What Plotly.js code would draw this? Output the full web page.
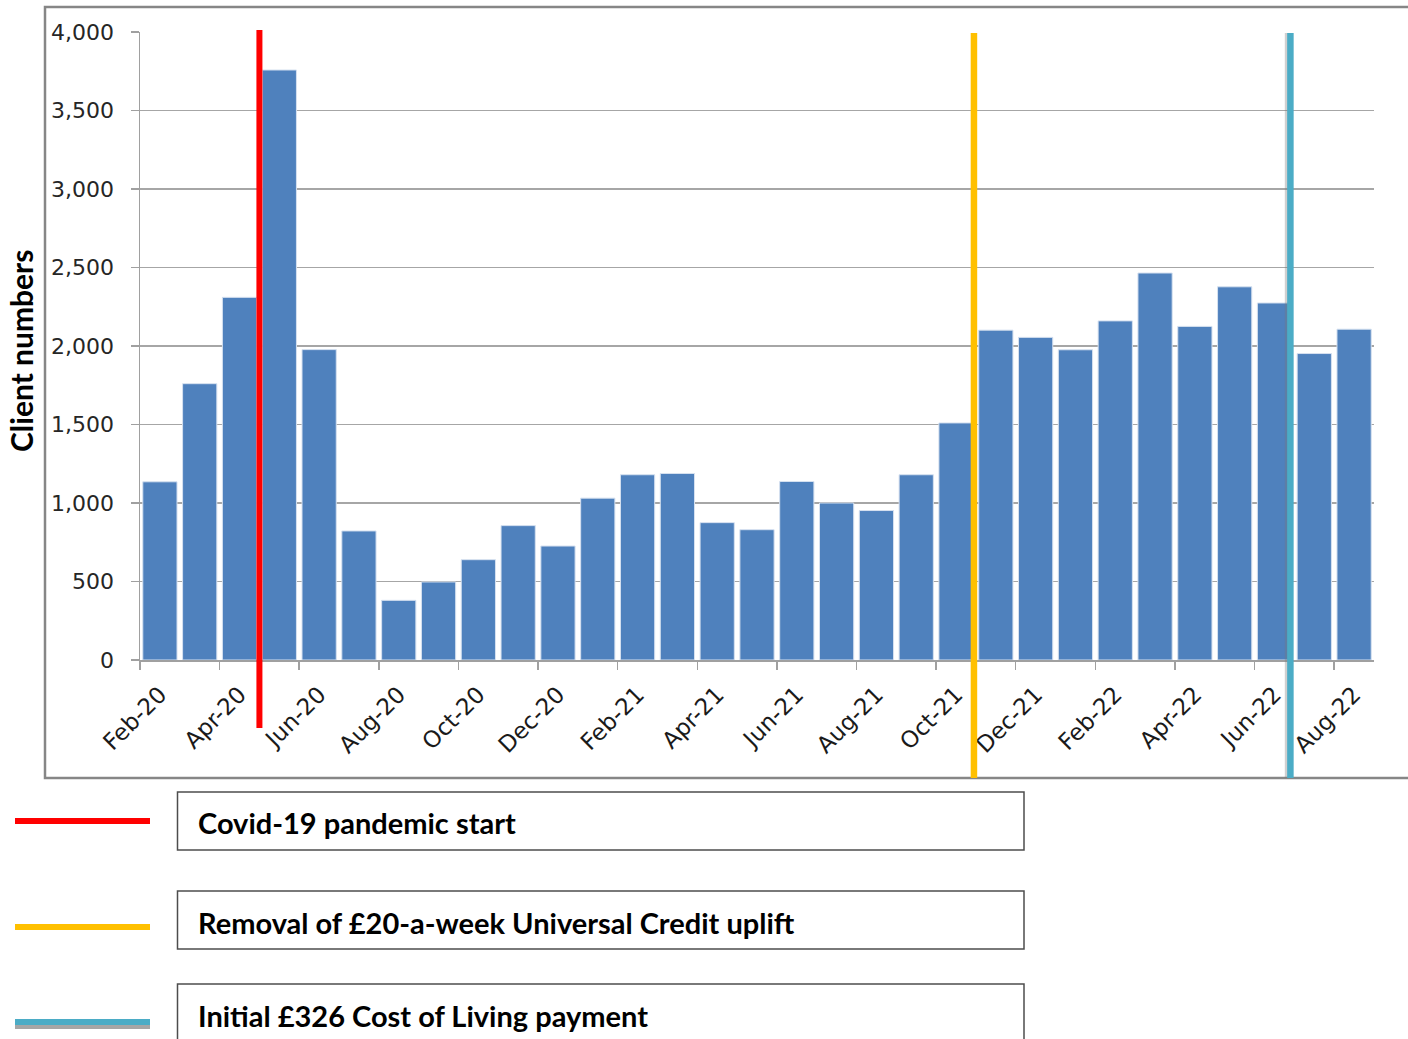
<!DOCTYPE html>
<html>
<head>
<meta charset="utf-8">
<script src="https://cdn.plot.ly/plotly-3.0.1.min.js"></script>
<style>
  html, body { margin: 0; padding: 0; background: #ffffff; }
  #chart { width: 1408px; height: 1039px; }
</style>
</head>
<body>
<div id="chart"></div>
<script>
// Monthly client numbers, Feb 2020 to Aug 2022
const months = [
  'Feb-20','Mar-20','Apr-20','May-20','Jun-20','Jul-20','Aug-20','Sep-20','Oct-20','Nov-20','Dec-20',
  'Jan-21','Feb-21','Mar-21','Apr-21','May-21','Jun-21','Jul-21','Aug-21','Sep-21','Oct-21','Nov-21','Dec-21',
  'Jan-22','Feb-22','Mar-22','Apr-22','May-22','Jun-22','Jul-22','Aug-22'
];
const clients = [
  1135, 1760, 2310, 3758, 1977, 822, 380, 497, 639, 856, 726,
  1031, 1180, 1188, 875, 830, 1137, 1000, 952, 1180, 1510, 2101, 2055,
  1976, 2160, 2465, 2125, 2377, 2274, 1952, 2107
];

// Policy events, placed on the month axis (category index)
const eventNames = [
  'Covid-19 pandemic start',
  'Removal of £20-a-week Universal Credit uplift',
  'Initial £326 Cost of Living payment'
];
const eventX = [2.5, 20.45, 28.4];
const eventColors = ['#ff0000', '#ffc000', '#4bacc6'];

// Page geometry helpers (pixel -> paper fractions)
const W = 1408, H = 1039;
const M = { l: 140, r: 34, t: 32, b: 379 };
const plotW = W - M.l - M.r, plotH = H - M.t - M.b;
const px = X => (X - M.l) / plotW;
const py = Y => (H - M.b - Y) / plotH;

const shapes = [];
const annotations = [];

// Outer chart frame
shapes.push({
  type: 'rect', xref: 'paper', yref: 'paper',
  x0: px(45), x1: px(1416), y0: py(778), y1: py(7),
  line: { color: '#868686', width: 2.5 }, fillcolor: 'rgba(0,0,0,0)', layer: 'below'
});

// Event lines across the plot
const eventTops = [py(30), py(33), py(33)];
const eventBottoms = [py(728), py(778), py(778)];
// soft shadow beside the cost-of-living line
shapes.push({
  type: 'line', xref: 'x', yref: 'paper',
  x0: eventX[2] - 0.09, x1: eventX[2] - 0.09, y0: eventBottoms[2], y1: eventTops[2],
  line: { color: 'rgba(120,120,120,0.35)', width: 4 }
});
eventX.forEach((x, i) => {
  shapes.push({
    type: 'line', xref: 'x', yref: 'paper',
    x0: x, x1: x, y0: eventBottoms[i], y1: eventTops[i],
    line: { color: eventColors[i], width: i === 0 ? 6 : 6.5 }
  });
});

// Key below the chart: coloured line + boxed label
const keyY = [821, 927, 1022];
const boxTop = [792, 891, 984];
const boxBottom = [850, 949, 1046];
const keyTextY = [823, 922, 1015];
eventNames.forEach((name, i) => {
  if (i === 2) {
    shapes.push({
      type: 'line', xref: 'paper', yref: 'paper',
      x0: px(15), x1: px(150), y0: py(keyY[i] + 5), y1: py(keyY[i] + 5),
      line: { color: '#a6a6a6', width: 4 }
    });
  }
  shapes.push({
    type: 'line', xref: 'paper', yref: 'paper',
    x0: px(15), x1: px(150), y0: py(keyY[i]), y1: py(keyY[i]),
    line: { color: eventColors[i], width: 6 }
  });
  shapes.push({
    type: 'rect', xref: 'paper', yref: 'paper',
    x0: px(177.5), x1: px(1024), y0: py(boxBottom[i]), y1: py(boxTop[i]),
    line: { color: '#4d4d4d', width: 1.5 }, fillcolor: '#ffffff'
  });
  annotations.push({
    xref: 'paper', yref: 'paper', x: px(196), y: py(keyTextY[i]),
    xanchor: 'left', yanchor: 'middle', showarrow: false,
    text: '<b>' + name + '</b>',
    font: { family: 'Lato, sans-serif', size: 29, color: '#000000' }
  });
});

// Vertical axis title
annotations.push({
  xref: 'paper', yref: 'paper', x: px(21), y: py(351),
  xanchor: 'center', yanchor: 'middle', showarrow: false, textangle: -90,
  text: '<b>Client numbers</b>',
  font: { family: 'Lato, sans-serif', size: 30, color: '#000000' }
});

const trace = {
  type: 'bar',
  x: months,
  y: clients,
  marker: { color: '#4f81bd', line: { color: '#d6e1f0', width: 1 } },
  hoverinfo: 'x+y'
};

const layout = {
  width: W, height: H,
  margin: M,
  paper_bgcolor: '#ffffff', plot_bgcolor: '#ffffff',
  showlegend: false,
  bargap: 0.14,
  font: { family: 'DejaVu Sans, sans-serif', color: '#262626' },
  xaxis: {
    type: 'category',
    tickmode: 'linear', tick0: 0, dtick: 2,
    tickson: 'boundaries',
    tickangle: -45,
    ticks: 'outside', ticklen: 8, tickwidth: 1.5, tickcolor: '#a0a0a0',
    ticklabelstandoff: 10,
    showgrid: false,
    showline: true, linecolor: '#a0a0a0', linewidth: 2,
    tickfont: { family: 'DejaVu Sans, sans-serif', size: 23, color: '#1a1a1a' },
    range: [-0.5, 30.5]
  },
  yaxis: {
    range: [0, 4000],
    tickmode: 'linear', tick0: 0, dtick: 500,
    tickformat: ',d',
    ticks: 'outside', ticklen: 8, tickwidth: 1.5, tickcolor: '#a0a0a0',
    ticklabelstandoff: 12,
    showgrid: true, gridcolor: '#a6a6a6', gridwidth: 1.5,
    showline: true, linecolor: '#a0a0a0', linewidth: 1.5,
    zeroline: false,
    tickfont: { family: 'DejaVu Sans, sans-serif', size: 22, color: '#262626' }
  },
  shapes: shapes,
  annotations: annotations
};

Plotly.newPlot('chart', [trace], layout, { staticPlot: true, displayModeBar: false });
</script>
</body>
</html>
